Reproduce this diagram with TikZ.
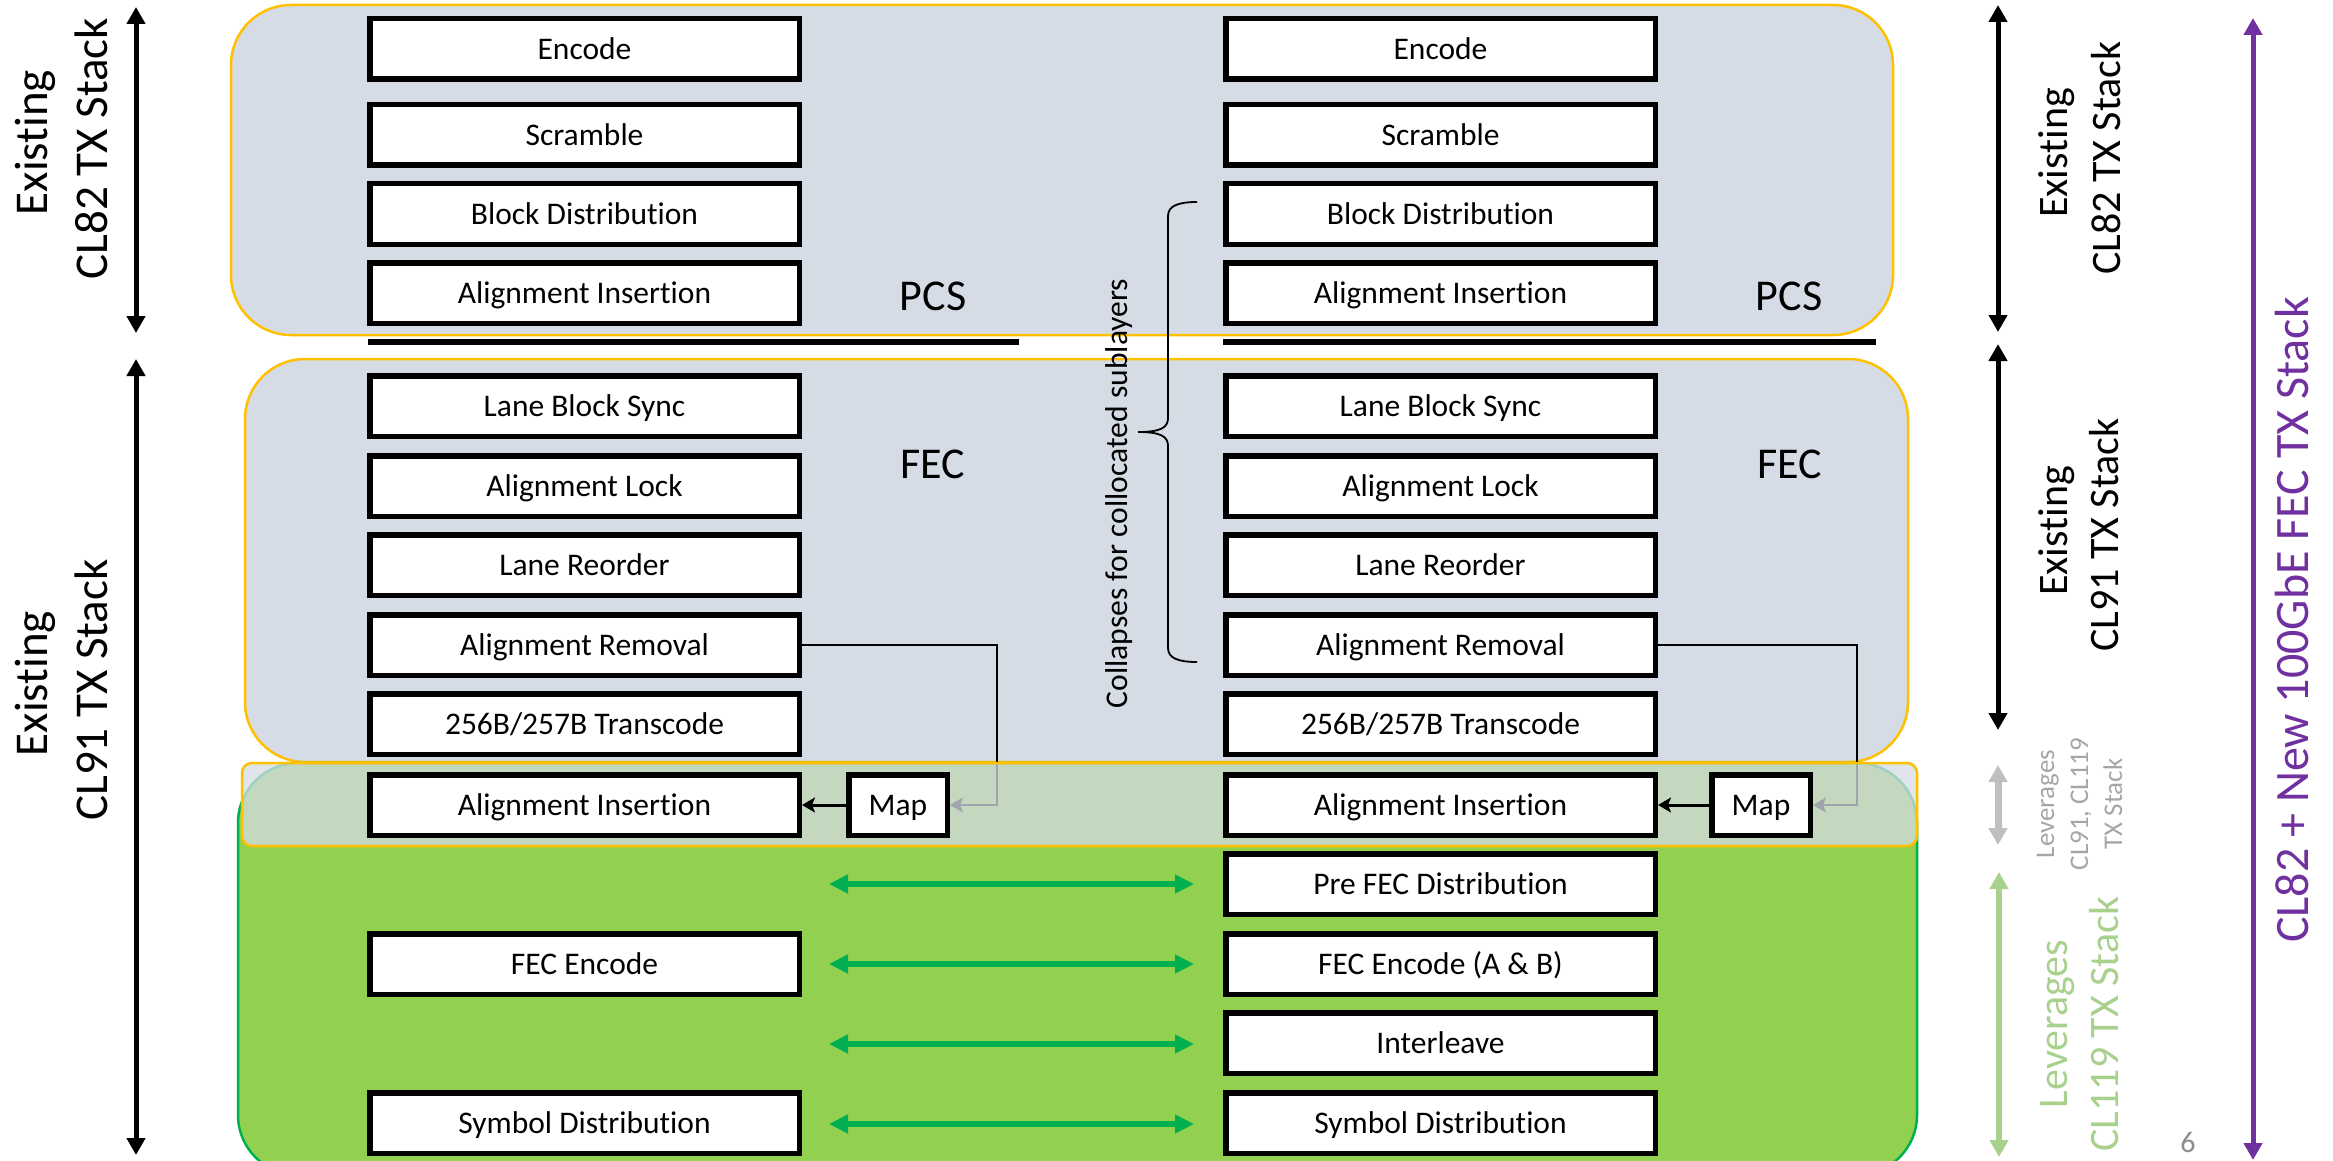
\documentclass[tikz,border=0pt]{standalone}
\usepackage{fontspec}
\setmainfont{Carlito}[Ligatures={NoCommon}]
\usetikzlibrary{arrows.meta}
\definecolor{pcsfill}{HTML}{D6DCE5}
\definecolor{gold}{HTML}{FFC000}
\definecolor{grfill}{HTML}{92D050}
\definecolor{grline}{HTML}{00B050}
\definecolor{ltgreen}{HTML}{A9D18E}
\definecolor{ltgray}{HTML}{BFBFBF}
\definecolor{txgray}{HTML}{A6A6A6}
\definecolor{numgray}{HTML}{8C8C8C}
\definecolor{purp}{HTML}{7030A0}
\pgfdeclarelayer{bg}
\pgfdeclarelayer{conn}
\pgfdeclarelayer{band}
\pgfsetlayers{bg,conn,band,main}
\begin{document}
\begin{tikzpicture}[x=1pt,y=-1pt,
  blk/.style={draw=black, line width=5.5pt, fill=white, minimum width=429.5pt,
    minimum height=60.5pt, inner sep=0pt, font=\fontsize{31.5}{38}\selectfont,
    text height=30pt, text depth=8.5pt},
  mapbox/.style={blk, minimum width=98.5pt},
  layerbox/.style={fill=pcsfill, draw=gold, line width=2.5pt, rounded corners=60pt},
  rot/.style={rotate=90, anchor=base, inner sep=0pt},
  bigL/.style={rot, font=\fontsize{47}{56}\selectfont},
  bigR/.style={rot, font=\fontsize{42}{50}\selectfont},
  smallR/.style={rot, font=\fontsize{27}{33}\selectfont, text=txgray},
  sidearrow/.style={line width=5pt, {Triangle[length=17pt,width=18pt]}-{Triangle[length=17pt,width=18pt]}},
  grarrow/.style={draw=grline, line width=6.5pt, {Triangle[length=19pt,width=18pt]}-{Triangle[length=19pt,width=18pt]}},
  feed/.style={line width=2.5pt, -{Stealth[length=13pt,width=15pt,inset=3pt]}},
  layertxt/.style={anchor=base, inner sep=0pt, font=\fontsize{44}{52}\selectfont}
]
\useasboundingbox (0,0) rectangle (2333,1161);

% ---- background layer boxes
\begin{pgfonlayer}{bg}
  \path[layerbox] (231,5) rectangle (1893,335);
  \path[layerbox] (245,359) rectangle (1908,762);
  \path[fill=grfill, draw=grline, line width=2.5pt, rounded corners=60pt] (238,763) rectangle (1917,1175);
\end{pgfonlayer}

% ---- overlap band
\begin{pgfonlayer}{band}
  \path[fill=pcsfill, fill opacity=0.75, draw=gold, line width=2.5pt, rounded corners=10pt] (242,763) rectangle (1917,846);
\end{pgfonlayer}

% ---- left column
\node[blk] (encL) at (584.5,49) {Encode};
\node[blk] (scrL) at (584.5,135) {Scramble};
\node[blk] (bdL)  at (584.5,214) {Block Distribution};
\node[blk] (aiTL) at (584.5,293) {Alignment Insertion};
\node[blk] (lbsL) at (584.5,406) {Lane Block Sync};
\node[blk] (alL)  at (584.5,486) {Alignment Lock};
\node[blk] (lrL)  at (584.5,565) {Lane Reorder};
\node[blk] (arL)  at (584.5,645) {Alignment Removal};
\node[blk] (tcL)  at (584.5,724) {256B/257B Transcode};
\node[blk] (aiL)  at (584.5,805) {Alignment Insertion};
\node[blk] (feL)  at (584.5,964) {FEC Encode};
\node[blk] (sdL)  at (584.5,1123) {Symbol Distribution};
\node[mapbox] (mapL) at (898,805) {Map};

% ---- right column
\node[blk] (encR) at (1440.5,49) {Encode};
\node[blk] (scrR) at (1440.5,135) {Scramble};
\node[blk] (bdR)  at (1440.5,214) {Block Distribution};
\node[blk] (aiTR) at (1440.5,293) {Alignment Insertion};
\node[blk] (lbsR) at (1440.5,406) {Lane Block Sync};
\node[blk] (alR)  at (1440.5,486) {Alignment Lock};
\node[blk] (lrR)  at (1440.5,565) {Lane Reorder};
\node[blk] (arR)  at (1440.5,645) {Alignment Removal};
\node[blk] (tcR)  at (1440.5,724) {256B/257B Transcode};
\node[blk] (aiR)  at (1440.5,805) {Alignment Insertion};
\node[blk] (pfR)  at (1440.5,884) {Pre FEC Distribution};
\node[blk] (feR)  at (1440.5,964) {FEC Encode (A \& B)};
\node[blk] (ilR)  at (1440.5,1043) {Interleave};
\node[blk] (sdR)  at (1440.5,1123) {Symbol Distribution};
\node[mapbox] (mapR) at (1761,805) {Map};

% ---- sublayer labels
\node[layertxt] (pcsL) at (933,310) {PCS};
\node[layertxt] (pcsR) at (1789,310) {PCS};
\node[layertxt] (fecL) at (933,478) {FEC};
\node[layertxt] (fecR) at (1790,478) {FEC};

% ---- separators
\draw[line width=6pt] (368,342) -- (1019,342);
\draw[line width=6pt] (1223,342) -- (1876,342);

% ---- connectors (under the translucent band)
\begin{pgfonlayer}{conn}
  \draw[feed] (arL.east) -- ++(195,0) |- (mapL.east);
  \draw[feed] (arR.east) -- ++(199,0) |- (mapR.east);
\end{pgfonlayer}
\draw[feed, line width=3pt] (mapL.west) -- (aiL.east);
\draw[feed, line width=3pt] (mapR.west) -- (aiR.east);

% ---- green correspondence arrows
\coordinate (g1a) at (829,884);  \coordinate (g1b) at (1194,884);
\coordinate (g2a) at (829,964);  \coordinate (g2b) at (1194,964);
\coordinate (g3a) at (829,1044); \coordinate (g3b) at (1194,1044);
\coordinate (g4a) at (829,1124); \coordinate (g4b) at (1194,1124);
\draw[grarrow] (g1a) -- (g1b);
\draw[grarrow] (g2a) -- (g2b);
\draw[grarrow] (g3a) -- (g3b);
\draw[grarrow] (g4a) -- (g4b);

% ---- brace and its label
\draw[line width=1.8pt] (1197,202) .. controls (1178,202) and (1168,206) .. (1168,216)
  -- (1168,418) .. controls (1168,428) and (1160,432) .. (1138,432)
  .. controls (1160,432) and (1168,436) .. (1168,446)
  -- (1168,648) .. controls (1168,658) and (1178,662) .. (1197,662);
\node[rot, font=\fontsize{31.6}{38}\selectfont] (coll) at (1127,493.5) {Collapses for collocated sublayers};

% ---- left side arrows and labels
\draw[sidearrow] (136,7) -- (136,333);
\draw[sidearrow] (136,359) -- (136,1155);
\node[bigL] (l82a) at (47,142.5) {Existing};
\node[bigL] (l82b) at (107,148.5) {CL82 TX Stack};
\node[bigL] (l91a) at (47,683.5) {Existing};
\node[bigL] (l91b) at (107,690) {CL91 TX Stack};

% ---- right side arrows and labels
\draw[sidearrow] (1998,5) -- (1998,332);
\draw[sidearrow] (1998,344) -- (1998,730);
\draw[line width=7pt, draw=ltgray, {Triangle[length=17pt,width=18pt]}-{Triangle[length=17pt,width=18pt]}] (1998,765) -- (1998,845);
\draw[line width=6pt, draw=ltgreen, {Triangle[length=17pt,width=18pt]}-{Triangle[length=17pt,width=18pt]}] (1999,872) -- (1999,1157);
\draw[line width=5pt, draw=purp, {Triangle[length=17pt,width=18pt]}-{Triangle[length=17pt,width=18pt]}] (2253,18) -- (2253,1160);

\node[bigR] (r82a) at (2067,153) {Existing};
\node[bigR] (r82b) at (2120,158) {CL82 TX Stack};
\node[bigR] (r91a) at (2067,531) {Existing};
\node[bigR] (r91b) at (2118,535) {CL91 TX Stack};
\node[smallR] (lv1) at (2054,804) {Leverages};
\node[smallR] (lv2) at (2088,804) {CL91, CL119};
\node[smallR] (lv3) at (2122,804) {TX Stack};
\node[bigR, text=ltgreen] (lg1) at (2067,1024) {Leverages};
\node[bigR, text=ltgreen] (lg2) at (2118,1024) {CL119 TX Stack};
\node[rot, font=\fontsize{48}{56}\selectfont, text=purp] (purpt) at (2308,620) {CL82 + New 100GbE FEC TX Stack};
\node[anchor=base, inner sep=0pt, font=\fontsize{30}{36}\selectfont, text=numgray] (pgno) at (2188,1152) {6};
\end{tikzpicture}
\end{document}
